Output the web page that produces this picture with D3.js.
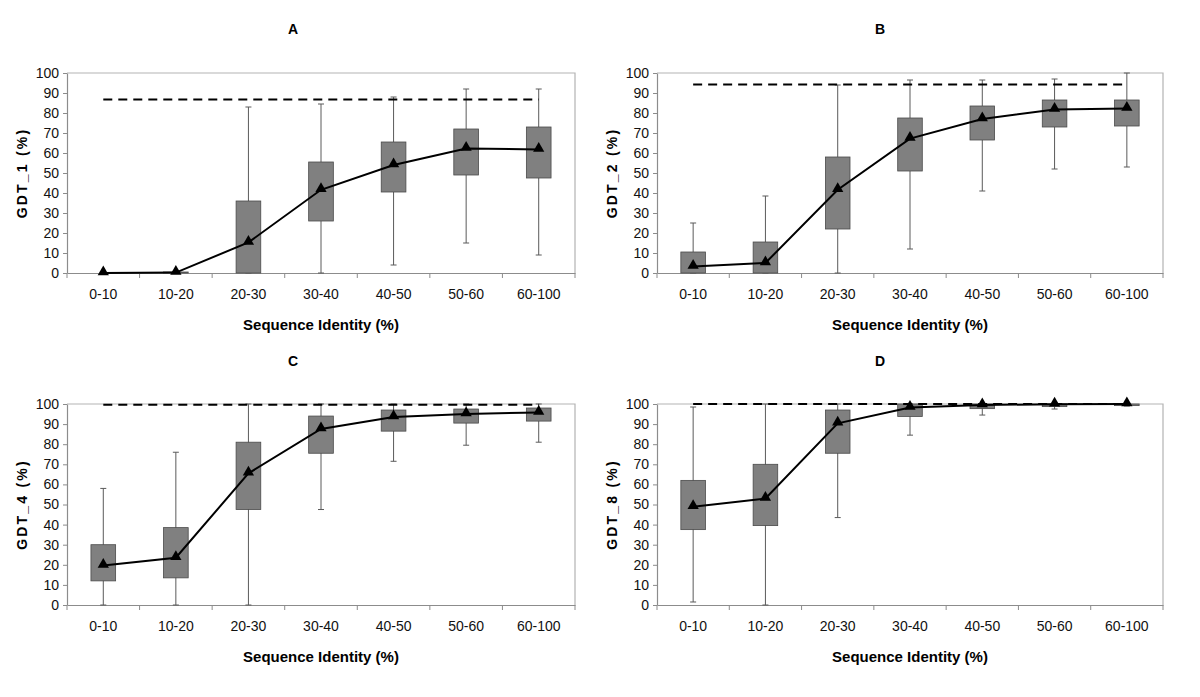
<!DOCTYPE html>
<html>
<head>
<meta charset="utf-8">
<script src="https://cdn.jsdelivr.net/npm/d3@7"></script>
<style>
  html, body { margin: 0; padding: 0; background: #fff; }
  svg { display: block; }
  .tick text { font-family: "Liberation Sans Narrow", "Arial Narrow", "Liberation Sans", Arial, sans-serif; }
</style>
</head>
<body>
<svg id="chart" width="1200" height="697"></svg>
<script>
// ---------- data ----------
const categories = ["0-10", "10-20", "20-30", "30-40", "40-50", "50-60", "60-100"];
const yTickValues = [0, 10, 20, 30, 40, 50, 60, 70, 80, 90, 100];
const panelLetters = ["A", "B", "C", "D"];
const yTitles = ["GDT_1 (%)", "GDT_2 (%)", "GDT_4 (%)", "GDT_8 (%)"];
const xTitle = "Sequence Identity (%)";

// GDT_1
const gdt1Min  = [0, 0, 0, 0, 4, 15, 9];
const gdt1Q1   = [0, 0, 0, 26, 40.5, 49, 47.5];
const gdt1Q3   = [0, 0.5, 36, 55.5, 65.5, 72, 73];
const gdt1Max  = [0, 0.5, 83, 84.5, 88, 92, 92];
const gdt1Mean = [0, 0.2, 15.3, 41.6, 54, 62.2, 61.8];
const gdt1Ref  = 86.7;

// GDT_2
const gdt2Min  = [0, 0, 0, 12, 41, 52, 53];
const gdt2Q1   = [0, 0, 22, 51, 66.5, 73, 73.5];
const gdt2Q3   = [10.5, 15.5, 58, 77.5, 83.5, 86.5, 86.5];
const gdt2Max  = [25, 38.5, 94, 96.5, 96.5, 97, 100];
const gdt2Mean = [3.2, 5, 41.6, 67.2, 77, 81.8, 82.3];
const gdt2Ref  = 94.2;

// GDT_4
const gdt4Min  = [0, 0, 0, 47.5, 71.5, 79.5, 81];
const gdt4Q1   = [12, 13.5, 47.5, 75.5, 86.5, 90.5, 91.5];
const gdt4Q3   = [30, 38.5, 81, 94, 97, 97.5, 98];
const gdt4Max  = [58, 76, 100, 100, 100, 100, 100];
const gdt4Mean = [19.6, 23.5, 65.5, 87.6, 93.5, 95, 95.8];
const gdt4Ref  = 99.6;

// GDT_8
const gdt8Min  = [1.5, 0, 43.5, 84.5, 94.5, 97.5, 99];
const gdt8Q1   = [37.5, 39.5, 75.5, 93.8, 97.7, 98.7, 99.2];
const gdt8Q3   = [62, 70, 97, 100, 100, 100, 100];
const gdt8Max  = [98.5, 100, 100, 100, 100, 100, 100];
const gdt8Mean = [48.9, 53, 90.4, 98.2, 99.5, 99.9, 100];
const gdt8Ref  = 100;

const panels = [
  { min: gdt1Min, q1: gdt1Q1, q3: gdt1Q3, max: gdt1Max, mean: gdt1Mean, ref: gdt1Ref },
  { min: gdt2Min, q1: gdt2Q1, q3: gdt2Q3, max: gdt2Max, mean: gdt2Mean, ref: gdt2Ref },
  { min: gdt4Min, q1: gdt4Q1, q3: gdt4Q3, max: gdt4Max, mean: gdt4Mean, ref: gdt4Ref },
  { min: gdt8Min, q1: gdt8Q1, q3: gdt8Q3, max: gdt8Max, mean: gdt8Mean, ref: gdt8Ref }
];

// ---------- layout ----------
const svg = d3.select("#chart");
const layout = [
  { left: 67,  right: 575,  top: 73,  bottom: 273, titleX: 293, titleY: 34 },
  { left: 657, right: 1163, top: 73,  bottom: 273, titleX: 880, titleY: 34 },
  { left: 67,  right: 575,  top: 404, bottom: 605, titleX: 293, titleY: 366 },
  { left: 657, right: 1163, top: 404, bottom: 605, titleX: 880, titleY: 366 }
];

panels.forEach((p, i) => {
  const L = layout[i];
  const g = svg.append("g");
  const x = d3.scaleBand().domain(categories).range([L.left, L.right]).padding(0);
  const y = d3.scaleLinear().domain([0, 100]).range([L.bottom, L.top]);
  const cx = c => x(c) + x.bandwidth() / 2;
  const bw = x.bandwidth() * 0.34;

  // frame (top & right)
  g.append("path")
    .attr("d", `M${L.left},${L.top}H${L.right}V${L.bottom}`)
    .attr("fill", "none").attr("stroke", "#b3b3b3").attr("stroke-width", 1.2);

  // y axis
  const ya = g.append("g").attr("transform", `translate(${L.left},0)`)
    .call(d3.axisLeft(y).tickValues(yTickValues).tickSize(4).tickPadding(4).tickSizeOuter(0));
  ya.select(".domain").attr("stroke", "#8c8c8c").attr("stroke-width", 1.2);
  ya.selectAll(".tick line").attr("stroke", "#8c8c8c");
  ya.selectAll(".tick text").attr("font-size", 14).attr("fill", "#111");

  // x axis
  const xa = g.append("g").attr("transform", `translate(0,${L.bottom})`)
    .call(d3.axisBottom(x).tickSize(0).tickPadding(16));
  xa.select(".domain").attr("stroke", "#8c8c8c").attr("stroke-width", 1.2);
  xa.selectAll(".tick text").attr("font-size", 14).attr("fill", "#111");
  // boundary ticks
  const bounds = categories.map(c => x(c)).concat([L.right]);
  g.selectAll(".btick").data(bounds).enter().append("line")
    .attr("x1", d => d).attr("x2", d => d)
    .attr("y1", L.bottom).attr("y2", L.bottom + 5)
    .attr("stroke", "#8c8c8c").attr("stroke-width", 1);

  // whiskers
  g.selectAll(".whisk").data(categories).enter().append("line")
    .attr("x1", c => cx(c)).attr("x2", c => cx(c))
    .attr("y1", (c, k) => y(p.min[k])).attr("y2", (c, k) => y(p.max[k]))
    .attr("stroke", "#5a5a5a").attr("stroke-width", 1);
  ["min", "max"].forEach(key => {
    g.selectAll(".cap" + key).data(categories).enter().append("line")
      .attr("x1", c => cx(c) - 3).attr("x2", c => cx(c) + 3)
      .attr("y1", (c, k) => y(p[key][k])).attr("y2", (c, k) => y(p[key][k]))
      .attr("stroke", "#5a5a5a").attr("stroke-width", 1);
  });

  // boxes
  g.selectAll(".box").data(categories).enter().append("rect")
    .attr("x", c => cx(c) - bw / 2).attr("width", bw)
    .attr("y", (c, k) => y(p.q3[k]))
    .attr("height", (c, k) => Math.max(0, y(p.q1[k]) - y(p.q3[k])))
    .attr("fill", "#808080").attr("stroke", "#4a4a4a").attr("stroke-width", 0.8);

  // reference dashed line
  g.append("line")
    .attr("x1", cx(categories[0])).attr("x2", cx(categories[categories.length - 1]))
    .attr("y1", y(p.ref)).attr("y2", y(p.ref))
    .attr("stroke", "#000").attr("stroke-width", 2).attr("stroke-dasharray", "9,6");

  // mean line
  const line = d3.line().x((c) => cx(c)).y((c, k) => y(p.mean[k]));
  g.append("path").datum(categories).attr("d", line)
    .attr("fill", "none").attr("stroke", "#000").attr("stroke-width", 2);
  g.selectAll(".tri").data(categories).enter().append("path")
    .attr("d", d3.symbol().type(d3.symbolTriangle).size(55))
    .attr("transform", (c, k) => `translate(${cx(c)},${y(p.mean[k]) - 1})`)
    .attr("fill", "#000");

  // titles
  g.append("text").attr("x", L.titleX).attr("y", L.titleY)
    .attr("text-anchor", "middle").attr("font-family", "Liberation Sans, Arial, sans-serif")
    .attr("font-weight", "bold").attr("font-size", 14).text(panelLetters[i]);
  g.append("text")
    .attr("x", (L.left + L.right) / 2).attr("y", L.bottom + 57)
    .attr("text-anchor", "middle").attr("font-family", "Liberation Sans Narrow, Arial Narrow, Liberation Sans, sans-serif")
    .attr("font-weight", "bold").attr("font-size", 15).text(xTitle);
  g.append("text")
    .attr("transform", `translate(${L.left - 40},${(L.top + L.bottom) / 2}) rotate(-90)`)
    .attr("text-anchor", "middle").attr("font-family", "Liberation Sans, Arial, sans-serif")
    .attr("font-weight", "bold").attr("font-size", 14).attr("letter-spacing", 2.2)
    .text(yTitles[i]);
});
</script>
</body>
</html>
